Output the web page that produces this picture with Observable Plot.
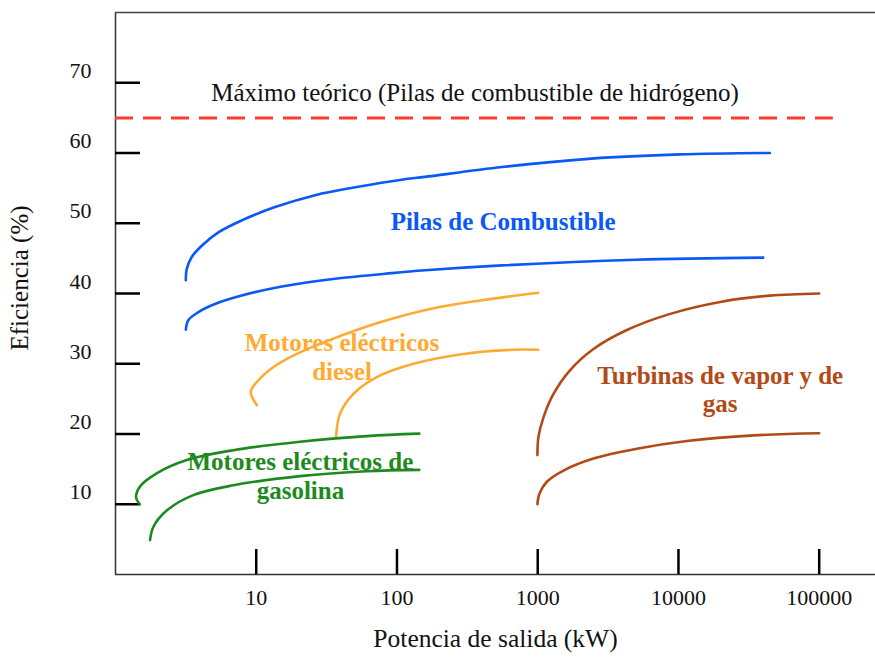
<!DOCTYPE html>
<html>
<head>
<meta charset="utf-8">
<script src="https://cdn.jsdelivr.net/npm/d3@7"></script>
<script src="https://cdn.jsdelivr.net/npm/@observablehq/plot@0.6"></script>
<style>
  html, body { margin: 0; padding: 0; background: #fff; }
  #chart svg { display: block; }
</style>
</head>
<body>
<div id="chart"></div>
<script>
// ---- Data ----
const xTicks = [10, 100, 1000, 10000, 100000];
const yTicks = [10, 20, 30, 40, 50, 60, 70];

const pilasSupX = [3.16, 3.21, 3.48, 4.10, 5.38, 7.88, 13.6, 26.2, 53.2, 108, 158, 558, 2400, 10280, 44600];
const pilasSupY = [41.9, 43.5, 45.2, 46.8, 48.7, 50.4, 52.3, 54.0, 55.2, 56.2, 56.6, 58.0, 59.2, 59.8, 60.0];
const pilasInfX = [3.16, 3.29, 3.88, 5.09, 7.88, 15.2, 36.3, 91.8, 158, 556, 4980, 40000];
const pilasInfY = [34.85, 36.2, 37.35, 38.5, 39.7, 41.0, 42.1, 42.9, 43.3, 44.0, 44.8, 45.1];

const dieselSupX = [10.1, 9.14, 10.1, 13.2, 19.4, 33.5, 75.8, 172, 390, 1010];
const dieselSupY = [24.1, 26.0, 27.4, 29.5, 31.4, 33.4, 35.9, 37.8, 39.0, 40.1];
const dieselInfX = [36.9, 39.4, 49.0, 71.8, 131, 297, 672, 1010];
const dieselInfY = [19.6, 22.9, 25.7, 28.1, 30.0, 31.4, 32.0, 32.0];

const gasolinaSupX = [1.49, 1.40, 1.49, 1.96, 3.21, 6.88, 20.5, 61, 144];
const gasolinaSupY = [10.0, 11.0, 12.5, 14.4, 16.3, 17.7, 18.9, 19.7, 20.05];
const gasolinaInfX = [1.76, 1.86, 2.31, 3.57, 6.88, 20.5, 61, 144];
const gasolinaInfY = [4.9, 6.8, 9.1, 11.3, 12.7, 14.0, 14.7, 14.9];

const turbinaSupX = [995, 1012, 1100, 1294, 1700, 2490, 4300, 8730, 19800, 44900, 100000];
const turbinaSupY = [17.0, 19.6, 22.4, 25.7, 29.1, 32.1, 34.8, 37.1, 38.8, 39.7, 40.0];
const turbinaInfX = [995, 1028, 1161, 1524, 2490, 5060, 11480, 34100, 100000];
const turbinaInfY = [10.0, 11.5, 13.2, 14.8, 16.5, 17.9, 19.0, 19.8, 20.1];

const maximoY = 65;
const maximoX = [1, 126000];

const labelTexts = ["Pilas de Combustible", "Motores eléctricos\ndiesel", "Motores eléctricos de\ngasolina", "Turbinas de vapor y de\ngas"];
const labelX = [568, 40.7, 20.6, 19800];
const labelY = [50.3, 31.05, 14.1, 26.4];
const maximoText = "Máximo teórico (Pilas de combustible de hidrógeno)";
const maximoTextX = 359;
const maximoTextY = 68.6;

// ---- Build series ----
const colors = {
  pilas: "#0a58f5",
  diesel: "#ffaa33",
  gasolina: "#1e8a1e",
  turbina: "#b24a18"
};
function series(key, xs, ys) { return xs.map((x, i) => ({key, x, y: ys[i]})); }
const curves = [
  series("pilas", pilasSupX, pilasSupY),
  series("pilas", pilasInfX, pilasInfY),
  series("diesel", dieselSupX, dieselSupY),
  series("diesel", dieselInfX, dieselInfY),
  series("gasolina", gasolinaSupX, gasolinaSupY),
  series("gasolina", gasolinaInfX, gasolinaInfY),
  series("turbina", turbinaSupX, turbinaSupY),
  series("turbina", turbinaInfX, turbinaInfY)
];
const labelKeys = ["pilas", "diesel", "gasolina", "turbina"];
const labels = labelTexts.map((t, i) => ({text: t, x: labelX[i], y: labelY[i], key: labelKeys[i]}));

const serif = "'Liberation Serif', 'Times New Roman', serif";

const marks = [
  // frame lines
  Plot.ruleX([1], {stroke: "#333", strokeWidth: 1.5}),
  Plot.ruleY([0], {stroke: "#333", strokeWidth: 1.5}),
  Plot.ruleY([80], {stroke: "#444", strokeWidth: 1.5}),
  // ticks (inside)
  Plot.axisX(xTicks, {tickSize: -25, text: null, strokeWidth: 2.5, stroke: "#000", label: null}),
  Plot.axisX(xTicks, {tickSize: 0, tickPadding: 15, fontSize: 22, fill: "#111", tickFormat: d => String(d), label: null}),
  Plot.axisY(yTicks, {tickSize: -25, text: null, strokeWidth: 2.5, stroke: "#000", label: null}),
  Plot.axisY(yTicks, {tickSize: 0, tickPadding: 24, dy: -12, fontSize: 22, fill: "#111", label: null}),
  // max line
  Plot.ruleY([maximoY], {x1: maximoX[0], x2: maximoX[1], stroke: "#ff3b2f", strokeWidth: 3, strokeDasharray: "18,10"}),
  Plot.text([maximoText], {x: maximoTextX, y: maximoTextY, text: d => d, fontSize: 25, fill: "#111", textAnchor: "middle"}),
  // curves
  ...curves.map(c => Plot.line(c, {x: "x", y: "y", stroke: colors[c[0].key], strokeWidth: 2.6, curve: "catmull-rom"})),
  // labels
  Plot.text(labels, {x: "x", y: "y", text: "text", fill: d => colors[d.key], fontSize: 25, fontWeight: "bold", lineHeight: 1.14, textAnchor: "middle"}),
  // axis titles
  Plot.text(["Potencia de salida (kW)"], {frameAnchor: "bottom", text: d => d, dy: 72, fontSize: 25.5, fill: "#111"}),
];

const chart = Plot.plot({
  width: 875,
  height: 659,
  marginTop: 12,
  marginRight: 0,
  marginBottom: 85,
  marginLeft: 115,
  style: {fontFamily: serif, background: "#fff", overflow: "visible"},
  x: {type: "log", domain: [1, Math.pow(10, 5.4)], label: null},
  y: {domain: [0, 80], label: null},
  marks
});

// rotated y-axis title
const svg = d3.select(chart);
svg.append("text")
  .attr("transform", "translate(22,278) rotate(-90)")
  .attr("text-anchor", "middle")
  .attr("dominant-baseline", "middle")
  .attr("font-family", serif)
  .attr("font-size", 25)
  .attr("fill", "#111")
  .text("Eficiencia (%)");

document.getElementById("chart").appendChild(chart);
</script>
</body>
</html>
